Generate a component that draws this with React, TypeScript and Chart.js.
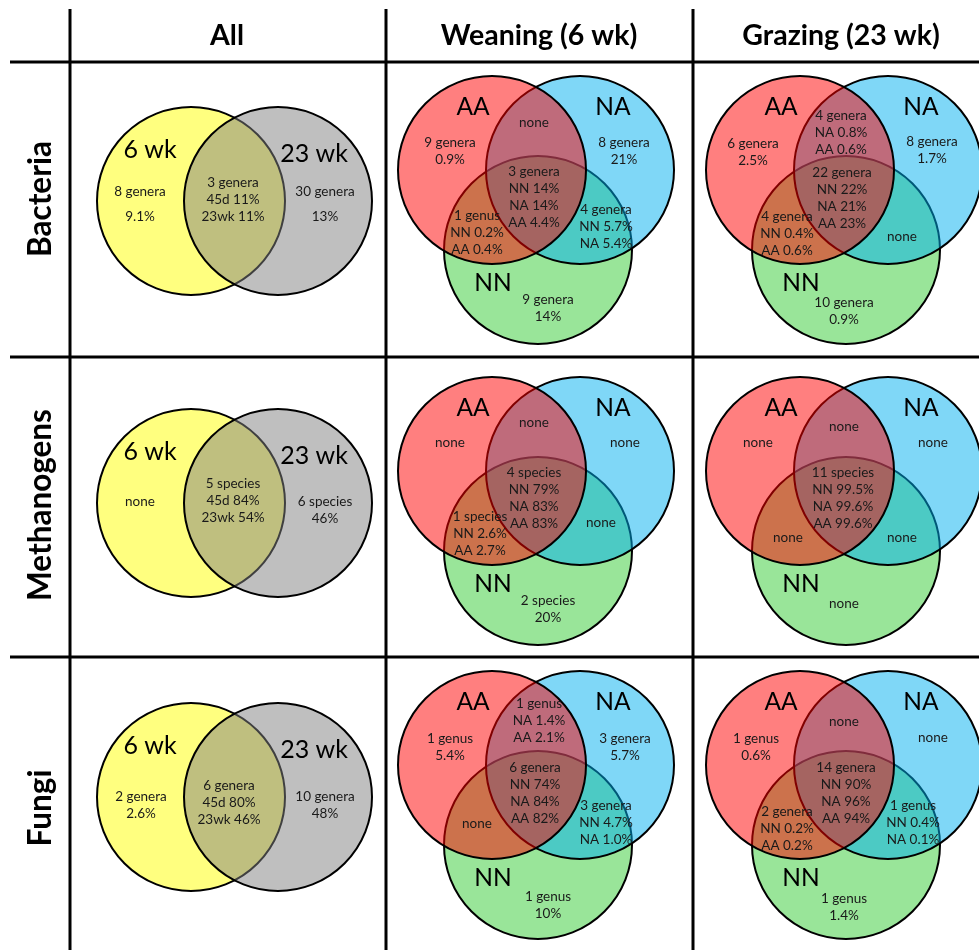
import React, { useEffect, useRef } from "react";
import { Chart, registerables } from "chart.js";

Chart.register(...registerables);

// ---------- data ----------
const ROW_TITLES = ["Bacteria", "Methanogens", "Fungi"];
const COLUMN_TITLES = ["All", "Weaning (6 wk)", "Grazing (23 wk)"];
const AGE_SETS = ["6 wk", "23 wk"];
const GROUP_SETS = ["AA", "NA", "NN"];

// All column regions: [6 wk only, shared, 23 wk only]
const ALL_BACTERIA = [["8 genera", "9.1%"], ["3 genera", "45d 11%", "23wk 11%"], ["30 genera", "13%"]];
const ALL_METHANOGENS = [["none"], ["5 species", "45d 84%", "23wk 54%"], ["6 species", "46%"]];
const ALL_FUNGI = [["2 genera", "2.6%"], ["6 genera", "45d 80%", "23wk 46%"], ["10 genera", "48%"]];

// Group regions: [AA only, AA∩NA, NA only, AA∩NA∩NN, AA∩NN, NA∩NN, NN only]
const WEANING_BACTERIA = [
  ["9 genera", "0.9%"], ["none"], ["8 genera", "21%"],
  ["3 genera", "NN 14%", "NA 14%", "AA 4.4%"],
  ["1 genus", "NN 0.2%", "AA 0.4%"], ["4 genera", "NN 5.7%", "NA 5.4%"], ["9 genera", "14%"],
];
const GRAZING_BACTERIA = [
  ["6 genera", "2.5%"], ["4 genera", "NA 0.8%", "AA 0.6%"], ["8 genera", "1.7%"],
  ["22 genera", "NN 22%", "NA 21%", "AA 23%"],
  ["4 genera", "NN 0.4%", "AA 0.6%"], ["none"], ["10 genera", "0.9%"],
];
const WEANING_METHANOGENS = [
  ["none"], ["none"], ["none"],
  ["4 species", "NN 79%", "NA 83%", "AA 83%"],
  ["1 species", "NN 2.6%", "AA 2.7%"], ["none"], ["2 species", "20%"],
];
const GRAZING_METHANOGENS = [
  ["none"], ["none"], ["none"],
  ["11 species", "NN 99.5%", "NA 99.6%", "AA 99.6%"],
  ["none"], ["none"], ["none"],
];
const WEANING_FUNGI = [
  ["1 genus", "5.4%"], ["1 genus", "NA 1.4%", "AA 2.1%"], ["3 genera", "5.7%"],
  ["6 genera", "NN 74%", "NA 84%", "AA 82%"],
  ["none"], ["3 genera", "NN 4.7%", "NA 1.0%"], ["1 genus", "10%"],
];
const GRAZING_FUNGI = [
  ["1 genus", "0.6%"], ["none"], ["none"],
  ["14 genera", "NN 90%", "NA 96%", "AA 94%"],
  ["2 genera", "NN 0.2%", "AA 0.2%"], ["1 genus", "NN 0.4%", "NA 0.1%"], ["1 genus", "1.4%"],
];

const ALL_COLUMN = [ALL_BACTERIA, ALL_METHANOGENS, ALL_FUNGI];
const GROUP_COLUMNS = [
  [WEANING_BACTERIA, GRAZING_BACTERIA],
  [WEANING_METHANOGENS, GRAZING_METHANOGENS],
  [WEANING_FUNGI, GRAZING_FUNGI],
];

// ---------- layout (pixels in a 979 x 950 coordinate space) ----------
const W = 979;
const H = 950;
const RULE_X = [70, 386, 693];
const RULE_Y = [62, 357, 657];
const HEADER_X = [227, 539, 841];
const ROW_TITLE_Y = [199, 505, 808];
const R = 94;
const TWO_X = [191, 278];
const TWO_CY = [201, 503, 797];
const THREE_RX = [492, 800];
const THREE_CY = [170, 471, 765];
const BLUE_DX = 88;
const GREEN_DX = 46;
const GREEN_DY = 80;

const TWO_SET_LABEL_POS = [[-41, -51], [123, -47]];
const TWO_REGION_POS = [
  [[-51, -9], [42, -18], [134, -9]],
  [[-51, -1], [42, -19], [134, -1]],
  [[-50, 0], [38, -11], [134, 0]],
];
const TWO_SIDE_SPACING = [25, 17, 17];

const THREE_SET_LABEL_POS = [[-19, -63], [121, -63], [1, 113]];
const THREE_REGION_POS = [
  [
    [[-42, -27], [42, -47], [132, -27], [42, 2], [-15, 46], [114, 40], [56, 130]],
    [[-47, -26], [41, -54], [132, -28], [42, 3], [-13, 47], [102, 67], [44, 133]],
  ],
  [
    [[-42, -28], [42, -48], [133, -28], [42, 2], [-12, 46], [109, 52], [56, 130]],
    [[-42, -28], [44, -44], [133, -28], [43, 2], [-12, 67], [102, 67], [44, 133]],
  ],
  [
    [[-42, -26], [47, -61], [133, -26], [43, 3], [-15, 59], [114, 41], [56, 132]],
    [[-44, -26], [44, -43], [133, -27], [46, 3], [-13, 47], [113, 41], [44, 134]],
  ],
];

const FONT = "Lato, 'Noto Sans', sans-serif";
const COLORS = {
  yellow: "rgba(255,255,0,0.5)",
  gray: "rgba(128,128,128,0.5)",
  red: "rgba(255,0,0,0.5)",
  blue: "rgba(0,176,240,0.5)",
  green: "rgba(51,204,51,0.5)",
};

const textPlugin = {
  id: "vennText",
  afterDatasetsDraw(chart: any) {
    const ctx = chart.ctx as CanvasRenderingContext2D;
    const xs = chart.scales.x;
    const ys = chart.scales.y;
    const px = (v: number) => xs.getPixelForValue(v);
    const py = (v: number) => ys.getPixelForValue(v);
    ctx.save();
    ctx.fillStyle = "#000";
    ctx.textAlign = "center";

    // column headers
    ctx.font = `bold 28.5px ${FONT}`;
    ctx.textBaseline = "alphabetic";
    COLUMN_TITLES.forEach((t, i) => ctx.fillText(t, px(HEADER_X[i]), py(45)));

    // row headers (rotated)
    ctx.font = `bold 31.5px ${FONT}`;
    ctx.textBaseline = "middle";
    ROW_TITLES.forEach((t, i) => {
      ctx.save();
      ctx.translate(px(41), py(ROW_TITLE_Y[i]));
      ctx.rotate(-Math.PI / 2);
      ctx.fillText(t, 0, 0);
      ctx.restore();
    });

    const drawLines = (lines: string[], x: number, y: number, gap: number) => {
      lines.forEach((l, k) => ctx.fillText(l, px(x), py(y + k * gap)));
    };

    // two-set Venns
    ROW_TITLES.forEach((_, row) => {
      const cx = TWO_X[0];
      const cy = TWO_CY[row];
      ctx.fillStyle = "#000";
      ctx.font = `25px ${FONT}`;
      AGE_SETS.forEach((s, k) => ctx.fillText(s, px(cx + TWO_SET_LABEL_POS[k][0]), py(cy + TWO_SET_LABEL_POS[k][1])));
      ctx.font = `13.5px ${FONT}`;
      ctx.fillStyle = "#1a1a1a";
      ALL_COLUMN[row].forEach((lines, k) => {
        const p = TWO_REGION_POS[row][k];
        const gap = k === 1 ? 17 : TWO_SIDE_SPACING[row];
        drawLines(lines, cx + p[0], cy + p[1], gap);
      });
    });

    // three-set Venns
    ROW_TITLES.forEach((_, row) => {
      THREE_RX.forEach((rx, col) => {
        const cy = THREE_CY[row];
        ctx.fillStyle = "#000";
        ctx.font = `24.5px ${FONT}`;
        GROUP_SETS.forEach((s, k) => ctx.fillText(s, px(rx + THREE_SET_LABEL_POS[k][0]), py(cy + THREE_SET_LABEL_POS[k][1])));
        ctx.font = `13.5px ${FONT}`;
        ctx.fillStyle = "#1a1a1a";
        GROUP_COLUMNS[row][col].forEach((lines, k) => {
          const p = THREE_REGION_POS[row][col][k];
          drawLines(lines, rx + p[0], cy + p[1], 16.8);
        });
      });
    });
    ctx.restore();
  },
};

export default function App() {
  const ref = useRef<HTMLCanvasElement>(null);

  useEffect(() => {
    const canvas = ref.current;
    if (!canvas) return;
    const datasets: any[] = [];

    const rule = (data: { x: number; y: number }[]) => ({
      type: "line",
      data,
      borderColor: "#000",
      borderWidth: 3,
      pointRadius: 0,
      fill: false,
      order: 0,
      clip: false,
    });
    RULE_X.forEach((x) => datasets.push(rule([{ x, y: 9 }, { x, y: H }])));
    RULE_Y.forEach((y) => datasets.push(rule([{ x: 10, y }, { x: W, y }])));

    const circles = (color: string, order: number, data: { x: number; y: number; r: number }[]) => ({
      type: "bubble",
      data,
      backgroundColor: color,
      borderColor: "#000",
      borderWidth: 2,
      hoverRadius: 0,
      order,
      clip: false,
    });

    datasets.push(circles(COLORS.gray, 1, TWO_CY.map((y) => ({ x: TWO_X[1], y, r: R }))));
    datasets.push(circles(COLORS.yellow, 2, TWO_CY.map((y) => ({ x: TWO_X[0], y, r: R }))));

    const redPts: any[] = [];
    const bluePts: any[] = [];
    const greenPts: any[] = [];
    THREE_CY.forEach((cy) =>
      THREE_RX.forEach((rx) => {
        redPts.push({ x: rx, y: cy, r: R });
        bluePts.push({ x: rx + BLUE_DX, y: cy, r: R });
        greenPts.push({ x: rx + GREEN_DX, y: cy + GREEN_DY, r: R });
      })
    );
    datasets.push(circles(COLORS.red, 1, redPts));
    datasets.push(circles(COLORS.blue, 2, bluePts));
    datasets.push(circles(COLORS.green, 3, greenPts));

    const chart = new Chart(canvas, {
      type: "bubble",
      data: { datasets },
      options: {
        animation: false,
        responsive: false,
        events: [],
        layout: { padding: 0, autoPadding: false },
        scales: {
          x: { type: "linear", min: 0, max: W, display: false },
          y: { type: "linear", min: 0, max: H, reverse: true, display: false },
        },
        plugins: { legend: { display: false }, tooltip: { enabled: false } },
      },
      plugins: [textPlugin],
    } as any);
    return () => chart.destroy();
  }, []);

  return (
    <div style={{ position: "absolute", left: 0, top: 0, width: W, height: H, background: "#fff" }}>
      <canvas ref={ref} width={W} height={H} style={{ display: "block", width: W, height: H }} />
    </div>
  );
}
